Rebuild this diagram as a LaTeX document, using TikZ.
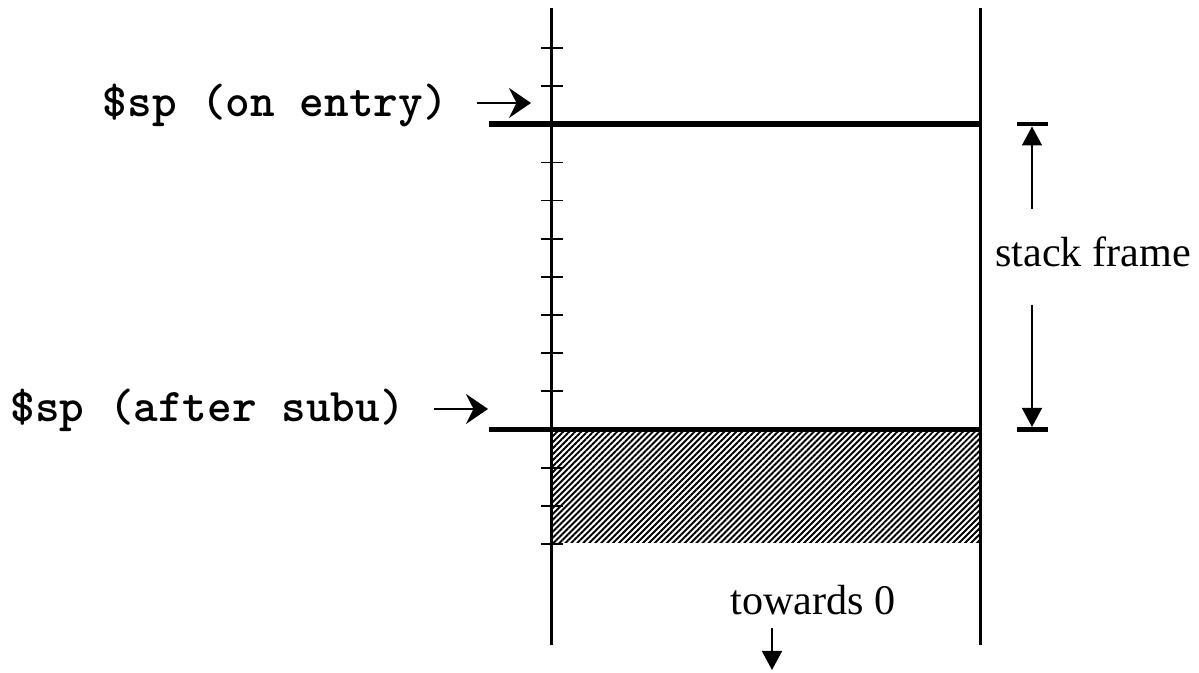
\documentclass[tikz,border=0pt]{standalone}
\usepackage{fontspec}
\setmainfont{Liberation Serif}
\usetikzlibrary{arrows.meta,patterns.meta}

\begin{document}
\begin{tikzpicture}[font=\fontsize{24}{28}\selectfont,
wall/.style={line width=1.2pt},
spline/.style={line width=3.4pt},
tickmark/.style={line width=1pt},
bar/.style={line width=2.8pt},
splabel/.style={font=\fontsize{26.7}{30}\selectfont\ttfamily\bfseries, inner xsep=0.58cm, inner ysep=0pt},
ptr/.style={-{Stealth[length=4.4mm, width=6mm, inset=1.5mm]}, line width=1pt},
dimarrow/.style={-{Triangle[length=3.8mm, width=4mm]}, line width=0.85pt}]
\useasboundingbox (0,0) rectangle (23.98,13.46);
% shaded area below $sp
\fill[pattern={Lines[angle=45, distance=2.4pt, line width=1.1pt]}] (11.03,2.60) rectangle (19.61,4.87);
\draw[wall] (11.03,13.30) -- (11.03,0.56);
\draw[wall] (19.61,13.30) -- (19.61,0.56);
\foreach \k in {0,1,3,4,5,6,7,8,9,11,12,13}
  \draw[tickmark] (10.82,{12.5-0.763*\k}) -- (11.26,{12.5-0.763*\k});
\draw[spline] (9.78,10.98) -- (19.61,10.98);
\draw[spline] (9.78,4.87) -- (19.61,4.87);
% labels
\node[splabel, anchor=base east] (entry) at (9.54,11.12) {\$sp (on entry)};
\node[splabel, anchor=base east] (subu) at (8.68,5.02) {\$sp (after subu)};
\coordinate (entrytip) at (10.62,11.40);
\coordinate (subutip) at (9.76,5.28);
\draw[ptr] (entry.east |- entrytip) -- (entrytip);
\draw[ptr] (subu.east |- subutip) -- (subutip);
% stack frame size
\node[anchor=base] (frame) at (21.86,8.12) {stack frame};
\draw[bar] (20.34,10.98) -- (20.96,10.98);
\draw[bar] (20.34,4.87) -- (20.96,4.87);
\coordinate (frametop) at (20.64,10.93);
\coordinate (framebot) at (20.64,4.92);
\draw[dimarrow] (20.64,9.28) -- (frametop);
\draw[dimarrow] (20.64,7.36) -- (framebot);
% direction
\node[anchor=base] (zero) at (16.26,1.16) {towards 0};
\coordinate (zerotip) at (15.44,0.06);
\draw[dimarrow, shorten <=0.12cm] (zerotip |- zero.south) -- (zerotip);
\end{tikzpicture}
\end{document}
